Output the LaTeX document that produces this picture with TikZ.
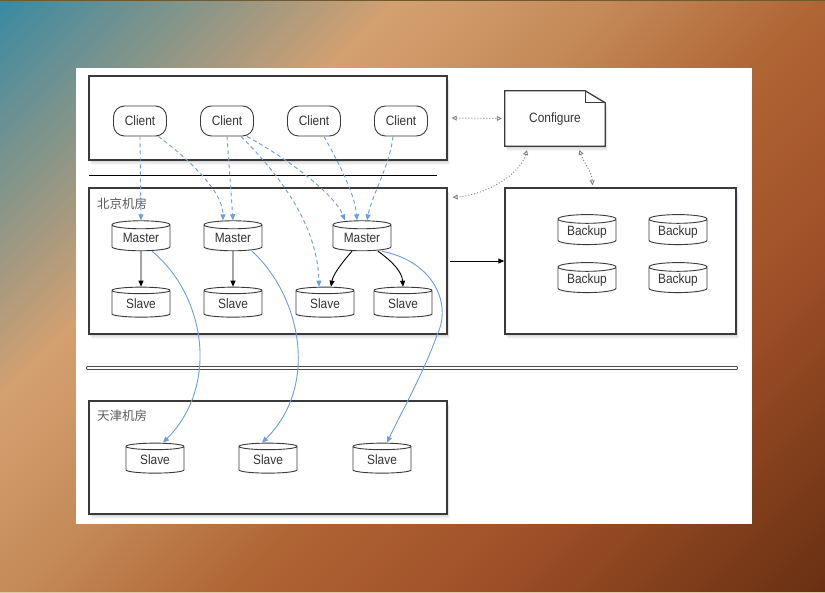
\documentclass[tikz,border=0pt]{standalone}
\usepackage{fontspec}
\setmainfont[FakeStretch=0.88]{Liberation Sans}
\newfontfamily\cjk{Noto Sans CJK SC}
\usetikzlibrary{shapes.geometric,arrows.meta,shadows,calc}
\definecolor{bgA}{HTML}{3A8AA2}
\definecolor{bgB}{HTML}{D4A070}
\definecolor{bgC}{HTML}{C48A58}
\definecolor{bgD}{HTML}{B06535}
\definecolor{bgE}{HTML}{A05028}
\definecolor{bgF}{HTML}{683012}
\definecolor{topline}{HTML}{6E5A2E}
\definecolor{botline}{HTML}{DCCBA0}
\definecolor{bluec}{HTML}{6A9EE2}
\definecolor{edgec}{HTML}{3A3A3A}
\definecolor{txtc}{HTML}{333333}
\pgfdeclarehorizontalshading{bgshade}{100bp}{color(0bp)=(bgA); color(25bp)=(bgA); color(39bp)=(bgB); color(46.5bp)=(bgC); color(54bp)=(bgD); color(62.5bp)=(bgE); color(75bp)=(bgF); color(100bp)=(bgF)}
\tikzset{
  softshadow/.style={
    drop shadow={opacity=0.06, shadow xshift=2.5pt, shadow yshift=-5pt},
    drop shadow={opacity=0.07, shadow xshift=2pt, shadow yshift=-4pt},
    drop shadow={opacity=0.08, shadow xshift=1.5pt, shadow yshift=-3pt},
    drop shadow={opacity=0.10, shadow xshift=1pt, shadow yshift=-2pt}},
  panel/.style={draw=edgec, line width=1.3pt, fill=white, inner sep=0pt, softshadow},
  client/.style={draw=edgec, line width=0.9pt, fill=white, rounded corners=11pt,
    minimum width=53pt, minimum height=30pt, inner sep=0pt, text=txtc,
    font=\fontsize{13.5}{15}\selectfont},
  db/.style={cylinder, shape border rotate=90, draw=edgec, line width=0.9pt, fill=white,
    aspect=0.22, minimum width=58pt, minimum height=30pt, inner sep=0pt, text=txtc,
    font=\fontsize{13.5}{15}\selectfont},
  roomlabel/.style={anchor=west, inner sep=0pt, text=txtc!80!white, font=\cjk\fontsize{12.5}{14}\selectfont},
  bdash/.style={draw=bluec, line width=0.9pt, dash pattern=on 4pt off 3pt, -{Triangle[length=6pt,width=5pt]}},
  bsolid/.style={draw=bluec, line width=0.9pt, -{Triangle[length=6pt,width=5pt]}},
  blk/.style={draw=black, line width=0.9pt, -{Triangle[length=6pt,width=5pt]}},
  cfg/.style={draw=gray, line width=0.9pt, dash pattern=on 1pt off 2pt,
    {Triangle[open,length=5pt,width=5pt]}-{Triangle[open,length=5pt,width=5pt]}},
}
\begin{document}
\begin{tikzpicture}[x=1pt,y=-1pt]
\path[use as bounding box] (0,0) rectangle (825,593);
\begin{scope}
\clip (0,0) rectangle (825,593);
\shade[shading=bgshade, shading angle=-45] (-89,-205) rectangle (914,798);
\end{scope}
\fill[topline] (0,0) rectangle (825,1.5);
\fill[botline] (0,591.5) rectangle (825,593);
\fill[white] (76,68) rectangle (752,524);

% containers
\node[panel, minimum width=358pt, minimum height=84pt] (cbox) at (268,118) {};
\node[panel, minimum width=358pt, minimum height=146pt] (bj) at (268,261) {};
\node[panel, minimum width=231pt, minimum height=146pt] (bk) at (620.5,261) {};
\node[panel, minimum width=358pt, minimum height=113pt] (tj) at (268,457.5) {};

% configure document
\node[minimum width=100pt, minimum height=55pt, inner sep=0pt] (conf) at (555,118.5) {};
\path[draw=edgec, line width=1.3pt, fill=white, softshadow]
  (conf.south west) -- (conf.north west) -- ([xshift=-20pt]conf.north east)
  -- ([yshift=-12pt]conf.north east) -- (conf.south east) -- cycle;
\draw[edgec, line width=0.9pt] ([xshift=-20pt]conf.north east) -- ([xshift=-20pt,yshift=-12pt]conf.north east) -- ([yshift=-12pt]conf.north east);
\node[text=txtc, font=\fontsize{13.5}{15}\selectfont] (conft) at ([yshift=-1pt]conf.center) {Configure};

% separators
\coordinate (l1a) at (89,175);
\coordinate (l1b) at (437,175);
\draw[black, line width=0.9pt] (l1a) -- (l1b);
\coordinate (dla) at (88,368);
\coordinate (dlb) at (736,368);
\draw[draw=black!70, line width=0.9pt, double=white, double distance=2.5pt, line cap=round] (dla) -- (dlb);

% labels
\node[roomlabel] (bjl) at (97,204) {北京机房};
\node[roomlabel] (tjl) at (97,416) {天津机房};

% clients
\node[client] (c1) at (140,121) {Client};
\node[client] (c2) at (227,121) {Client};
\node[client] (c3) at (314,121) {Client};
\node[client] (c4) at (401,121) {Client};

% masters and slaves
\node[db] (m1) at (141,238) {Master};
\node[db] (m2) at (233,238) {Master};
\node[db] (m3) at (362,238) {Master};
\node[db] (b1) at (141,304) {Slave};
\node[db] (b2) at (233,304) {Slave};
\node[db] (b3) at (325,304) {Slave};
\node[db] (b4) at (403,304) {Slave};
\node[db] (t1) at (155,460) {Slave};
\node[db] (t2) at (268,460) {Slave};
\node[db] (t3) at (382,460) {Slave};

% backups
\node[db] (k1) at (587,232) {Backup};
\node[db] (k2) at (678,232) {Backup};
\node[db] (k3) at (587,280) {Backup};
\node[db] (k4) at (678,280) {Backup};

% client -> master dashed
\draw[bdash] (c1.south) -- (m1.north);
\draw[bdash] (c1.-40) .. controls (190,160) and (223,192) .. ([xshift=-10pt]m2.north);
\draw[bdash] (c2.south) -- (m2.north);
\draw[bdash] ([xshift=14pt]c2.south) .. controls (285,180) and (318,230) .. ([xshift=-6pt]b3.north);
\draw[bdash] ([xshift=20pt]c2.south) .. controls (290,160) and (335,195) .. ([xshift=-17pt]m3.north);
\draw[bdash] ([xshift=10pt]c3.south) .. controls (340,165) and (355,195) .. ([xshift=-5pt]m3.north);
\draw[bdash] ([xshift=-8pt]c4.south) .. controls (390,165) and (372,195) .. ([xshift=5pt]m3.north);

% master -> slave
\draw[blk] (m1.south) -- (b1.north);
\draw[blk] (m2.south) -- (b2.north);
\draw[blk] ([xshift=-10pt]m3.south) .. controls (340,265) and (333,275) .. ([xshift=6pt]b3.north);
\draw[blk] ([xshift=16pt]m3.south) .. controls (393,262) and (402,272) .. (b4.north);

% master -> tianjin slaves
\draw[bsolid] ([xshift=11pt]m1.south) .. controls (205,295) and (220,385) .. ([xshift=8pt]t1.north);
\draw[bsolid] ([xshift=19pt]m2.south) .. controls (300,295) and (320,385) .. ([xshift=-6pt]t2.north);
\coordinate (m3turn) at (437,335);
\draw[bsolid] ([xshift=20pt]m3.south) .. controls (435,262) and (452,305) .. (m3turn)
  .. controls (425,370) and (400,415) .. ([xshift=5pt]t3.north);

% configure links
\draw[cfg, shorten <=4pt, shorten >=3pt] (cbox.east) -- (conf.west);
\draw[cfg, shorten <=4pt] ([xshift=-27pt]conf.south) .. controls (520,175) and (485,195) .. ([xshift=5pt,yshift=-10pt]bj.north east);
\draw[cfg, shorten <=4pt, shorten >=2pt] ([xshift=23pt]conf.south) .. controls (585,165) and (592,172) .. ([xshift=-28pt]bk.north);

% beijing -> backup
\draw[blk, shorten <=2pt] (bj.east) -- (bk.west);
\end{tikzpicture}
\end{document}
